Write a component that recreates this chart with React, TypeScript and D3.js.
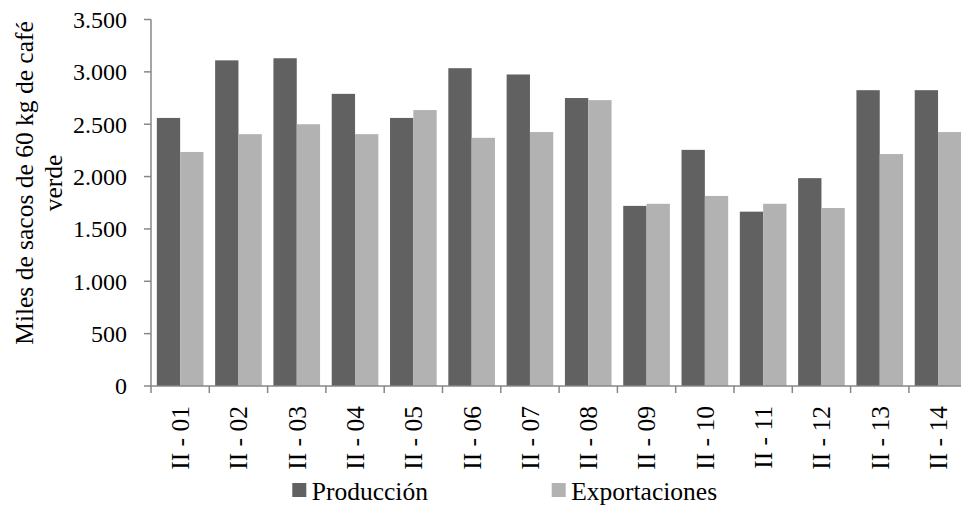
import React from "react";
import * as d3 from "d3";

const categories = ["II - 01","II - 02","II - 03","II - 04","II - 05","II - 06","II - 07","II - 08","II - 09","II - 10","II - 11","II - 12","II - 13","II - 14"];
const produccion = [2560, 3110, 3130, 2790, 2560, 3035, 2975, 2750, 1720, 2255, 1665, 1985, 2825, 2825];
const exportaciones = [2235, 2405, 2500, 2405, 2635, 2370, 2425, 2730, 1740, 1815, 1740, 1700, 2215, 2425];
const yTicks = [0, 500, 1000, 1500, 2000, 2500, 3000, 3500];
const seriesNames = ["Producción", "Exportaciones"];
const seriesColors = ["#616161", "#b2b2b2"];

const FONT = "'Liberation Serif', 'Times New Roman', serif";
const fmt = (v: number) => d3.format(",")(v).replace(/,/g, ".");

export default function App() {
  const W = 961, H = 506;
  const left = 151, right = 967.2, top = 19.5, bottom = 386;
  const x = d3.scaleBand<string>().domain(categories).range([left, right]).padding(0);
  const inner = d3.scaleBand<number>().domain([0, 1]).range([0, x.bandwidth()]).paddingInner(0).paddingOuter(0.25);
  const y = d3.scaleLinear().domain([0, 3500]).range([bottom, top]);
  const series = [produccion, exportaciones];
  const axisColor = "#878787";

  return (
    <svg width={W} height={H} style={{ position: "absolute", left: 0, top: 0, background: "#fff" }} fontFamily={FONT}>
      <rect x={0} y={0} width={W} height={H} fill="#fff" />
      {categories.map((c, i) => (
        <g key={c}>
          {series.map((s, k) => (
            <rect key={k} x={(x(c) as number) + (inner(k) as number)} y={y(s[i])} width={inner.bandwidth()} height={bottom - y(s[i])} fill={seriesColors[k]} />
          ))}
        </g>
      ))}
      <line x1={left} x2={left} y1={top} y2={bottom} stroke={axisColor} strokeWidth={1.5} />
      {yTicks.map((t) => (
        <g key={t}>
          <line x1={left - 7} x2={left} y1={y(t)} y2={y(t)} stroke={axisColor} strokeWidth={1.5} />
          <text x={127} y={y(t)} dy="0.35em" textAnchor="end" fontSize={24} fill="#000">{fmt(t)}</text>
        </g>
      ))}
      <line x1={left} x2={right} y1={bottom} y2={bottom} stroke={axisColor} strokeWidth={1.5} />
      {categories.map((c) => (
        <line key={c} x1={x(c) as number} x2={x(c) as number} y1={bottom} y2={bottom + 7} stroke={axisColor} strokeWidth={1.5} />
      ))}
      {categories.map((c) => {
        const cx = (x(c) as number) + x.bandwidth() / 2;
        return (
          <text key={c} transform={`translate(${cx},406) rotate(-90)`} dy="0.35em" textAnchor="end" fontSize={25.5} fill="#000">{c}</text>
        );
      })}
      <g transform="translate(0,183) rotate(-90)">
        <text x={0} y={33} textAnchor="middle" fontSize={25.5} fill="#000">Miles de sacos de 60 kg de café</text>
        <text x={0} y={62} textAnchor="middle" fontSize={25.5} fill="#000">verde</text>
      </g>
      {seriesNames.map((n, k) => {
        const lx = [292.3, 551.7][k];
        return (
          <g key={n}>
            <rect x={lx} y={483} width={14} height={14} fill={seriesColors[k]} />
            <text x={lx + 19.5} y={499.5} fontSize={25.5} fill="#000">{n}</text>
          </g>
        );
      })}
    </svg>
  );
}
